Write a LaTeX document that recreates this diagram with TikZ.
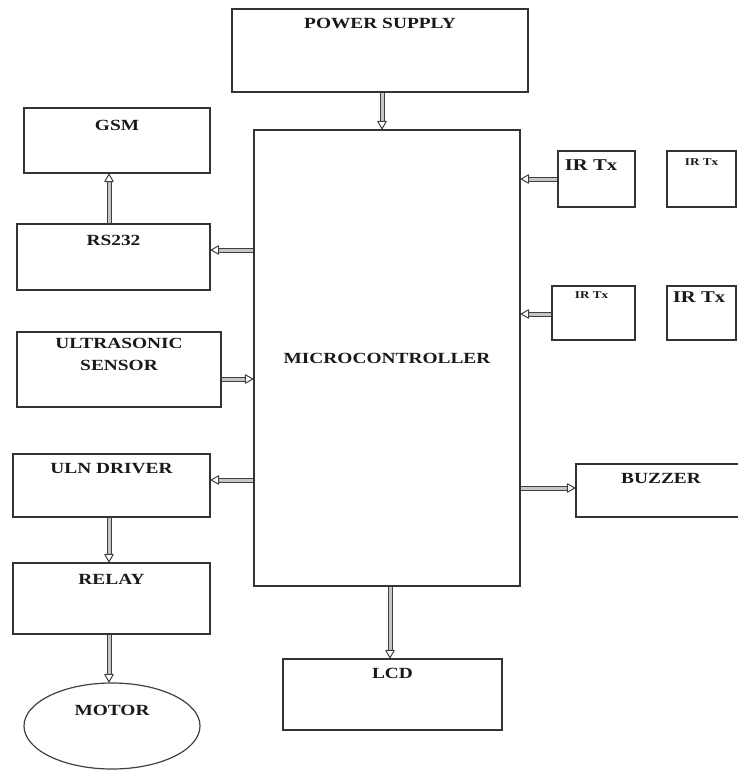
\documentclass[tikz,border=0pt]{standalone}
\usepackage{fontspec}
\usepackage{graphicx}
\setmainfont{Liberation Serif}
\usetikzlibrary{arrows.meta,shapes.geometric,calc}
\newcommand{\wtxt}[1]{\scalebox{1.25}[1]{#1}}
\begin{document}
\begin{tikzpicture}[x=1pt,y=-1pt,
  blk/.style={draw=black!80, line width=1.3pt, rectangle, inner sep=0pt},
  lbl/.style={font=\bfseries\fontsize{15.5}{22}\selectfont, inner sep=0pt, align=center, text=black!90},
  slbl/.style={font=\bfseries\fontsize{10.5}{12}\selectfont, inner sep=0pt, text=black!90},
  blbl/.style={font=\bfseries\fontsize{16.5}{18}\selectfont, inner sep=0pt, text=black!90},
  arr/.style={draw=black!75, line width=1pt, double=gray!45, double distance=3pt,
     -{Triangle[fill=white, length=9pt, width=10pt, line width=1pt, round]}}]
\useasboundingbox (0,0) rectangle (737,771);
% blocks
\node[blk, minimum width=296pt, minimum height=83pt] (ps) at (380,50.5) {};
\node[blk, minimum width=266pt, minimum height=456pt] (mc) at (387,358) {};
\node[blk, minimum width=186pt, minimum height=65pt] (gsm) at (117,140.5) {};
\node[blk, minimum width=193pt, minimum height=66pt] (rs) at (113.5,257) {};
\node[blk, minimum width=204pt, minimum height=75pt] (us) at (119,369.5) {};
\node[blk, minimum width=197pt, minimum height=63pt] (uln) at (111.5,485.5) {};
\node[blk, minimum width=197pt, minimum height=71pt] (rl) at (111.5,598.5) {};
\node[draw=black!75, line width=1.2pt, ellipse, inner sep=0pt, minimum width=176pt, minimum height=86pt] (mo) at (112,726) {};
\node[blk, minimum width=219pt, minimum height=71pt] (lcd) at (392.5,694.5) {};
\node[blk, minimum width=77pt, minimum height=56pt] (ir1) at (596.5,179) {};
\node[blk, minimum width=69pt, minimum height=56pt] (ir2) at (701.5,179) {};
\node[blk, minimum width=83pt, minimum height=54pt] (ir3) at (593.5,313) {};
\node[blk, minimum width=69pt, minimum height=54pt] (ir4) at (701.5,313) {};
\node[blk, minimum width=164pt, minimum height=53pt] (bz) at (658,490.5) {};
% labels
\node[lbl] (psT) at ([yshift=-15pt]ps.north) {\wtxt{POWER SUPPLY}};
\node[lbl] (mcT) at (mc.center) {\wtxt{MICROCONTROLLER}};
\node[lbl] (gsmT) at ([yshift=-18pt]gsm.north) {\wtxt{GSM}};
\node[lbl] (rsT) at ([yshift=-17pt]rs.north) {\wtxt{RS232}};
\node[lbl] (usT) at ([yshift=-23pt]us.north) {\wtxt{ULTRASONIC}\\\wtxt{SENSOR}};
\node[lbl] (ulnT) at ([yshift=-15pt]uln.north) {\wtxt{ULN DRIVER}};
\node[lbl] (rlT) at ([yshift=-17pt]rl.north) {\wtxt{RELAY}};
\node[lbl] (moT) at ([yshift=16pt]mo.center) {\wtxt{MOTOR}};
\node[lbl] (lcdT) at ([yshift=-15pt]lcd.north) {\wtxt{LCD}};
\node[blbl] (ir1T) at ([xshift=-5.5pt,yshift=-15pt]ir1.north) {\wtxt{IR Tx}};
\node[slbl] (ir2T) at ([yshift=-12pt]ir2.north) {\wtxt{IR Tx}};
\node[slbl] (ir3T) at ([xshift=-2pt,yshift=-10pt]ir3.north) {\wtxt{IR Tx}};
\node[blbl] (ir4T) at ([xshift=-2.5pt,yshift=-12pt]ir4.north) {\wtxt{IR Tx}};
\node[lbl] (bzT) at ([xshift=3pt,yshift=-15pt]bz.north) {\wtxt{BUZZER}};
% connectors
\draw[arr] (ps.south -| 382,0) -- (mc.north -| 382,0);
\draw[arr] (mc.west |- 0,250) -- (rs.east |- 0,250);
\draw[arr] (rs.north -| 109,0) -- (gsm.south -| 109,0);
\draw[arr] (us.east |- 0,379) -- (mc.west |- 0,379);
\draw[arr] (mc.west |- 0,480) -- (uln.east |- 0,480);
\draw[arr] (uln.south -| 109,0) -- (rl.north -| 109,0);
\draw[arr] (rl.south -| 109,0) -- (mo.north -| 109,0);
\draw[arr] (mc.south -| 390,0) -- (lcd.north -| 390,0);
\draw[arr] (ir1.west) -- (mc.east |- ir1.west);
\draw[arr] (ir3.west |- 0,314) -- (mc.east |- 0,314);
\draw[arr] (mc.east |- 0,488) -- (bz.west |- 0,488);
\end{tikzpicture}
\end{document}
